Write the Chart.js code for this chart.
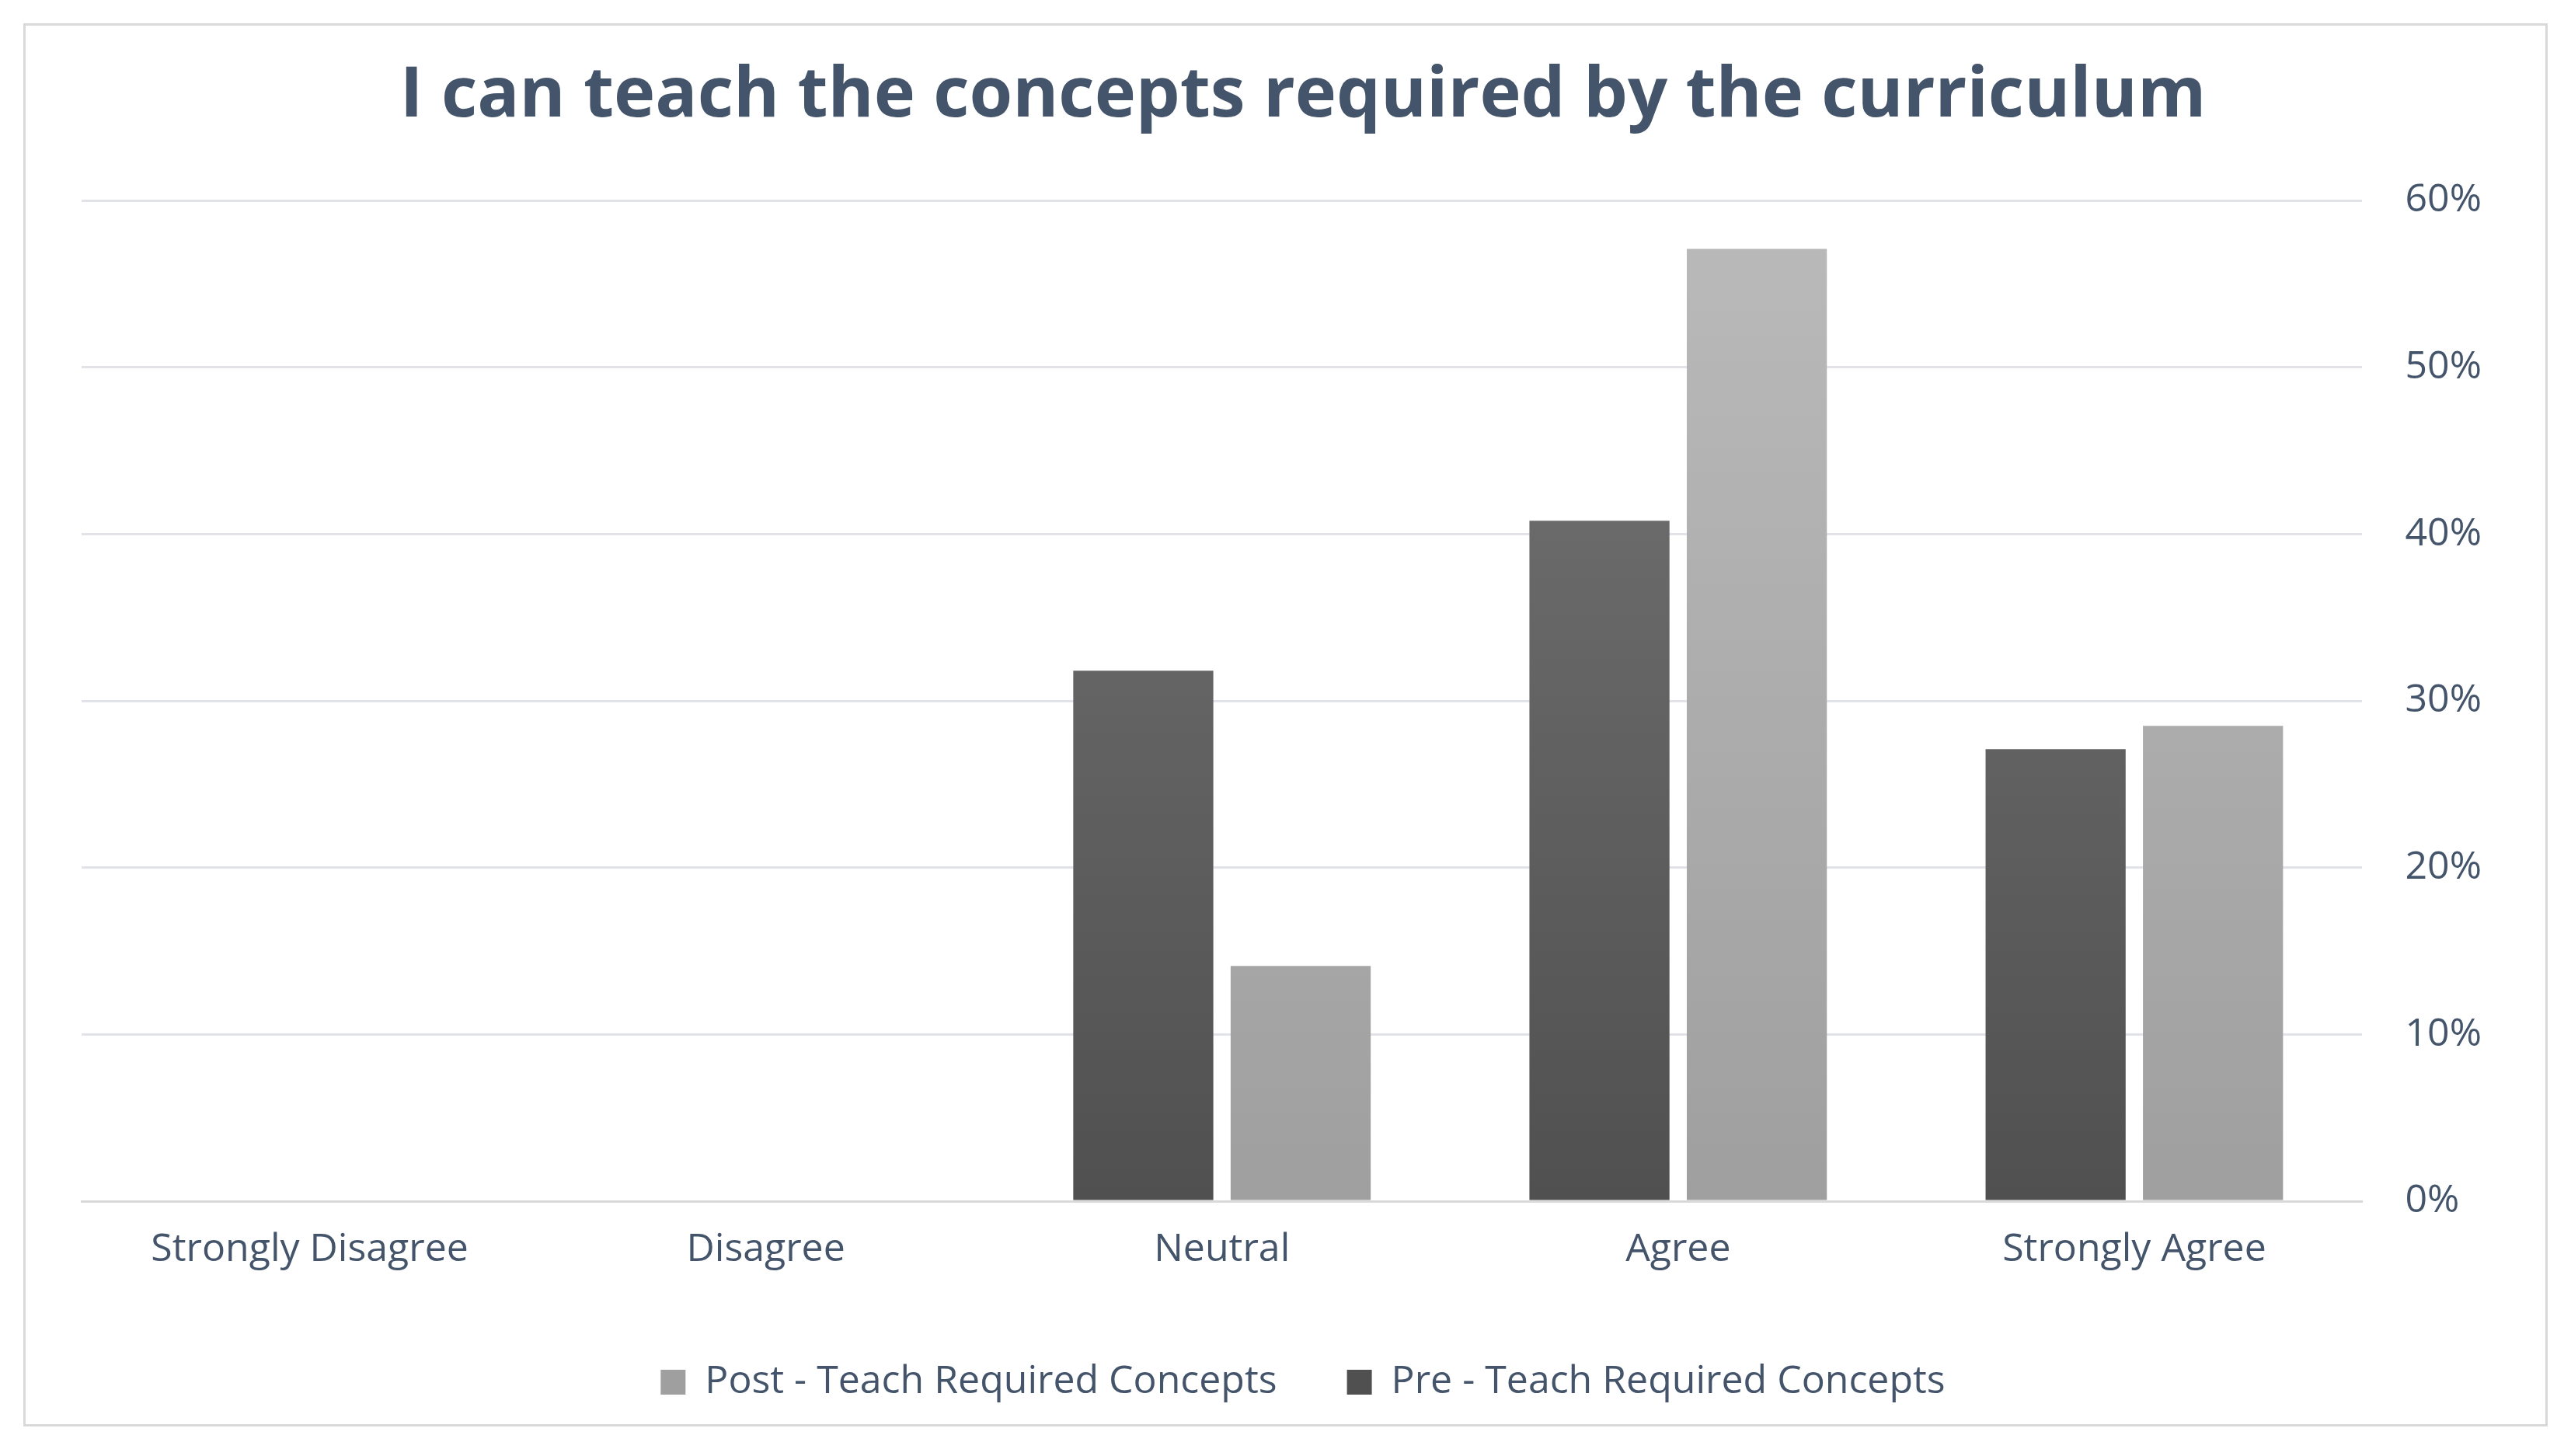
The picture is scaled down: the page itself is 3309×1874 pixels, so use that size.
<!DOCTYPE html>
<html><head><meta charset="utf-8">
<script src="https://cdn.jsdelivr.net/npm/chart.js@4/dist/chart.umd.min.js"></script>
<style>html,body{margin:0;padding:0;background:#fff}#wrap{position:absolute;left:30px;top:30px;width:3249px;height:1806px;border:3px solid #d9d9d9;box-sizing:border-box}</style>
</head><body>
<div id="wrap"></div>
<canvas id="c" width="3309" height="1874" style="position:absolute;left:0;top:0"></canvas>
<script>
const categories = ["Strongly Disagree","Disagree","Neutral","Agree","Strongly Agree"];
const preValues = [null, null, 31.8, 40.8, 27.1];
const postValues = [null, null, 14.1, 57.1, 28.5];
const yTicks = [0,10,20,30,40,50,60];

function grad(top, bottom){
  return (ctx)=>{
    const ca = ctx.chart.chartArea;
    if(!ca) return bottom;
    const g = ctx.chart.ctx.createLinearGradient(0, ca.top, 0, ca.bottom);
    g.addColorStop(0, top); g.addColorStop(1, bottom);
    return g;
  };
}
const font = "'Open Sans', 'Noto Sans', sans-serif";
new Chart(document.getElementById('c'), {
  type:'bar',
  data:{labels:categories, datasets:[
    {label:"Pre - Teach Required Concepts", data:preValues, backgroundColor:grad('#767676','#505050')},
    {label:"Post - Teach Required Concepts", data:postValues, backgroundColor:grad('#bababa','#9f9f9f')}
  ]},
  options:{
    responsive:false, devicePixelRatio:1, animation:false,
    layout:{padding:{left:105,right:60,top:40,bottom:60}},
    datasets:{bar:{categoryPercentage:0.69,barPercentage:0.89}},
    plugins:{
      title:{display:true,text:"I can teach the concepts required by the curriculum",color:'#44546a',
        font:{family:font,size:90,weight:'bold'},padding:{top:30,bottom:80}},
      legend:{position:'bottom',reverse:true,
        labels:{color:'#44546a',font:{family:font,size:50},boxWidth:32,boxHeight:32,padding:90}},
      tooltip:{enabled:false}
    },
    scales:{
      x:{grid:{display:false},border:{display:true,color:'#d9d9d9',width:3},
        ticks:{color:'#44546a',font:{family:font,size:50},padding:25}},
      y:{position:'right',min:0,max:60,
        afterBuildTicks:(s)=>{s.ticks=yTicks.map(v=>({value:v}));},
        grid:{color:'#e2e3e8',lineWidth:3,drawTicks:false},border:{display:false},
        ticks:{color:'#44546a',font:{family:font,size:50},padding:55,callback:v=>v+'%'}}
    }
  }
});
</script>
</body></html>
